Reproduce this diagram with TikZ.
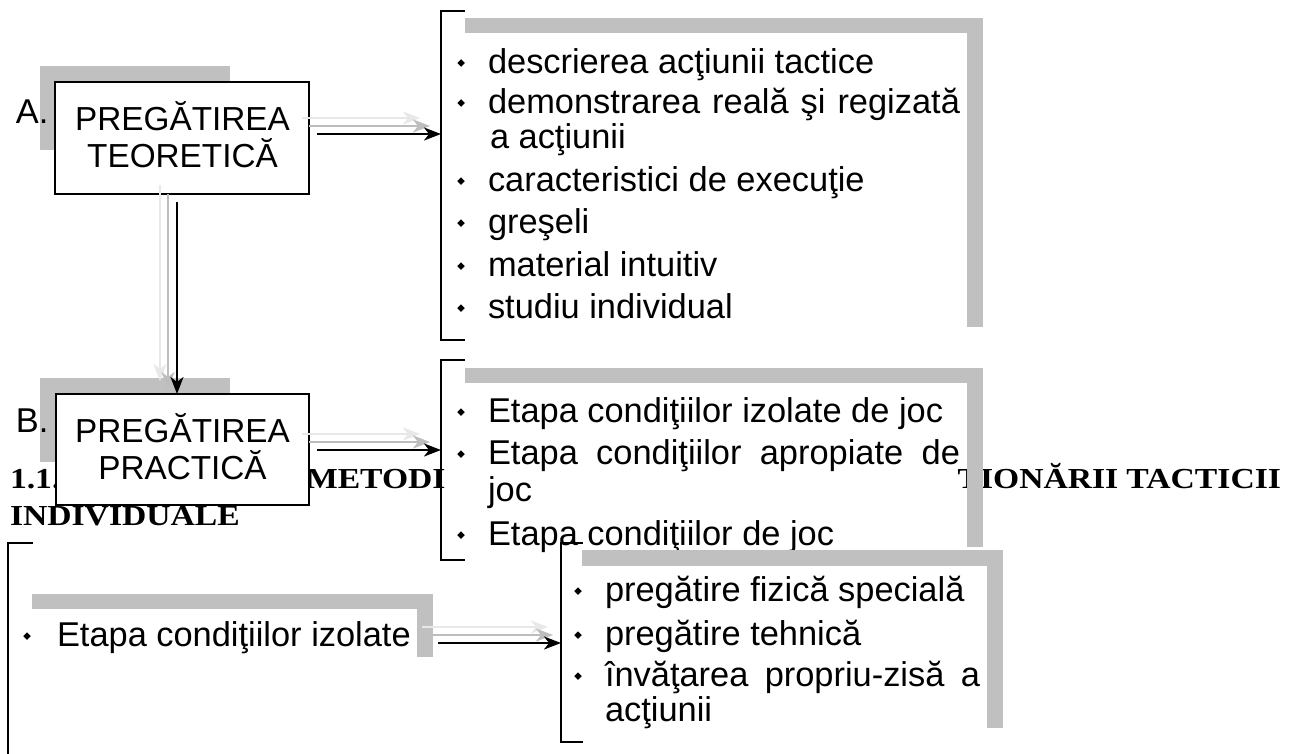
\documentclass[tikz,border=0pt]{standalone}
\usepackage{fontspec}
\setmainfont{Liberation Sans}
\newfontfamily\headfont{Liberation Serif}
\usetikzlibrary{arrows.meta,shapes.geometric}
\definecolor{shadowgray}{HTML}{C0C0C0}
\definecolor{lightarrow}{HTML}{E8E8E8}
\definecolor{midarrow}{HTML}{BDBDBD}
\newcommand{\hd}[1]{\scalebox{1.16}[1]{#1}}
\tikzset{
  every node/.style={inner sep=0pt,outer sep=0pt},
  txt/.style={anchor=base west,font=\fontsize{34.4}{38}\selectfont},
  boxtxt/.style={anchor=base,font=\fontsize{33.3}{37}\selectfont},
  headtxt/.style={anchor=base west,font=\headfont\bfseries\fontsize{29}{32}\selectfont},
  bul/.style={diamond,fill=black,minimum size=7.5pt},
  shade/.style={fill=shadowgray,draw=none},
  mainbox/.style={draw=black,line width=1.5pt,fill=white},
  brk/.style={draw=black,line width=1.6pt},
  tipstyle/.style={-{Stealth[length=17pt,width=13pt,inset=5pt]}},
  arrL/.style={draw=lightarrow,line width=2.4pt,tipstyle},
  arrM/.style={draw=midarrow,line width=2.4pt,tipstyle},
  arrK/.style={draw=black,line width=2.4pt,tipstyle}
}
\begin{document}
\begin{tikzpicture}[x=1pt,y=-1pt]
\useasboundingbox (0,0) rectangle (1302,753);
\fill[white] (0,0) rectangle (1302,753);

% heading (partly hidden by the boxes drawn later)
\node[headtxt] (h1) at (10,488) {\hd{1.1.}};
\node[headtxt] (h2) at (306,488) {\hd{METODI}};
\node[headtxt,anchor=base east] (h3) at (1281,488) {\hd{TIONĂRII\hspace{7pt}TACTICII}};
\node[headtxt] (h4) at (10,525) {\hd{INDIVIDUALE}};

% box A
\fill[shade] (40,66) rectangle (230,150);
\node[txt] (la) at (16,123) {A.};
\node[mainbox,minimum width=254pt,minimum height=112pt] (boxA) at (182,138) {};
\node[boxtxt] (a1) at (182.5,130) {PREGĂTIREA};
\node[boxtxt] (a2) at (182.5,167) {TEORETICĂ};

% box B
\fill[shade] (40,378) rectangle (230,462);
\node[txt] (lb) at (16,432) {B.};
\node[mainbox,minimum width=253pt,minimum height=111pt] (boxB) at (182.5,449.5) {};
\node[boxtxt] (p1) at (182.5,442) {PREGĂTIREA};
\node[boxtxt] (p2) at (182.5,479) {PRACTICĂ};

% frame 1
\fill[shade] (465,18) rectangle (983,33);
\fill[shade] (967,18) rectangle (983,327);
\draw[brk] (465,11) -- (441,11) -- (441,340) -- (465,340);
\node[bul] (b11) at (461,63) {};
\node[txt] (t11) at (488,73) {descrierea acţiunii tactice};
\node[bul] (b12) at (461,103) {};
\node[txt] (t12) at (488,113) {\makebox[472pt][s]{demonstrarea reală şi regizată}};
\node[txt] (t12b) at (490,148) {a acţiunii};
\node[bul] (b13) at (461,181) {};
\node[txt] (t13) at (488,191) {caracteristici de execuţie};
\node[bul] (b14) at (461,223) {};
\node[txt] (t14) at (488,233) {greşeli};
\node[bul] (b15) at (461,266) {};
\node[txt] (t15) at (488,276) {material intuitiv};
\node[bul] (b16) at (461,308) {};
\node[txt] (t16) at (488,318) {studiu individual};

% frame 2
\fill[shade] (465,368) rectangle (983,383);
\fill[shade] (967,368) rectangle (983,547);
\draw[brk] (465,360) -- (441,360) -- (441,560) -- (465,560);
\node[bul] (b21) at (461,412) {};
\node[txt] (t21) at (488,422) {Etapa condiţiilor izolate de joc};
\node[bul] (b22) at (461,454) {};
\node[txt] (t22) at (488,464) {\makebox[472pt][s]{Etapa condiţiilor apropiate de}};
\node[txt] (t22b) at (488,501) {joc};
\node[bul] (b23) at (461,535) {};
\node[txt] (t23) at (488,545) {Etapa condiţiilor de joc};

% frame 3
\fill[shade] (582,550) rectangle (1003,566);
\fill[shade] (987,550) rectangle (1003,728);
\draw[brk] (583,543) -- (561,543) -- (561,742) -- (583,742);
\node[bul] (b31) at (578,591) {};
\node[txt] (t31) at (605,601) {pregătire fizică specială};
\node[bul] (b32) at (578,635) {};
\node[txt] (t32) at (605,645) {pregătire tehnică};
\node[bul] (b33) at (578,676) {};
\node[txt] (t33) at (605,686) {\makebox[375pt][s]{învăţarea propriu-zisă a}};
\node[txt] (t33b) at (605,721) {acţiunii};

% frame 4
\fill[shade] (32,594) rectangle (433,609);
\fill[shade] (417,594) rectangle (433,657);
\draw[brk] (33,543) -- (8,543) -- (8,760);
\node[bul] (b41) at (27,636) {};
\node[txt] (t41) at (57,646) {Etapa condiţiilor izolate};

% connectors A -> frame 1
\coordinate (aL1) at (302,118); \coordinate (aL2) at (420,118);
\coordinate (aM1) at (309,126); \coordinate (aM2) at (430,126);
\coordinate (aK1) at (317,134); \coordinate (aK2) at (441,134);
\draw[arrL] (aL1) -- (aL2);
\draw[arrM] (aM1) -- (aM2);
\draw[arrK] (aK1) -- (aK2);

% connectors A -> B
\coordinate (vL1) at (160,185); \coordinate (vL2) at (160,381);
\coordinate (vM1) at (168,194); \coordinate (vM2) at (168,389);
\coordinate (vK1) at (177,202); \coordinate (vK2) at (177,394);
\draw[arrL] (vL1) -- (vL2);
\draw[arrM] (vM1) -- (vM2);
\draw[arrK] (vK1) -- (vK2);

% connectors B -> frame 2
\coordinate (bL1) at (302,434); \coordinate (bL2) at (420,434);
\coordinate (bM1) at (309,442); \coordinate (bM2) at (430,442);
\coordinate (bK1) at (317,450); \coordinate (bK2) at (441,450);
\draw[arrL] (bL1) -- (bL2);
\draw[arrM] (bM1) -- (bM2);
\draw[arrK] (bK1) -- (bK2);

% connectors frame 4 -> frame 3
\coordinate (cL1) at (422,627); \coordinate (cL2) at (548,627);
\coordinate (cM1) at (430,635); \coordinate (cM2) at (553,635);
\coordinate (cK1) at (438,643); \coordinate (cK2) at (561,643);
\draw[arrL] (cL1) -- (cL2);
\draw[arrM] (cM1) -- (cM2);
\draw[arrK] (cK1) -- (cK2);
\end{tikzpicture}
\end{document}
